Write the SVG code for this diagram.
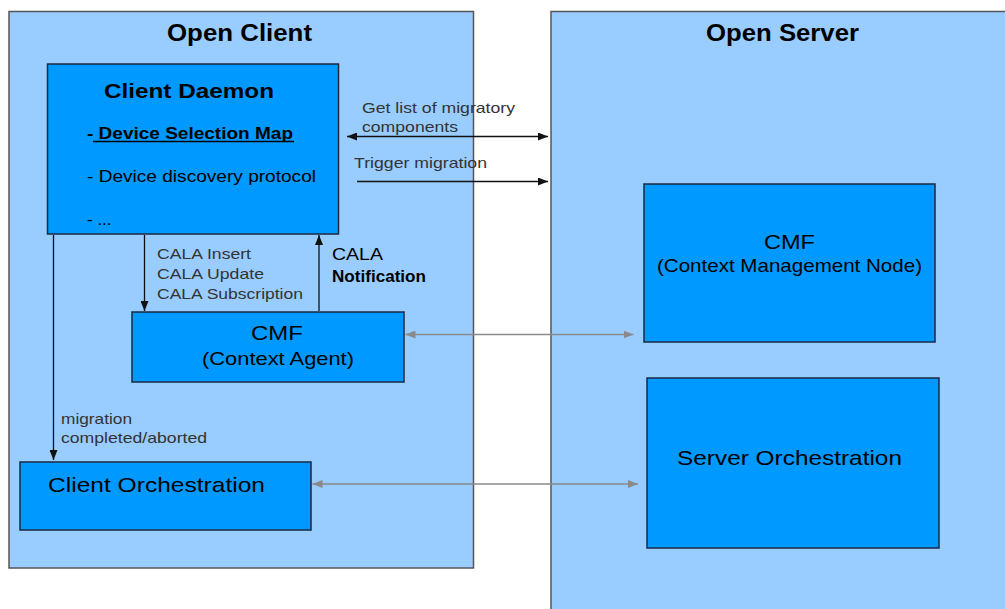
<svg xmlns="http://www.w3.org/2000/svg" width="1005" height="609" viewBox="0 0 1005 609">
  <defs>
    <marker id="arrowBlack" viewBox="0 0 10 8" refX="10" refY="4" markerWidth="10" markerHeight="8" markerUnits="userSpaceOnUse" orient="auto-start-reverse">
      <path d="M0,0 L10,4 L0,8 Z" fill="#111"/>
    </marker>
    <marker id="arrowGray" viewBox="0 0 10 8" refX="10" refY="4" markerWidth="10" markerHeight="8" markerUnits="userSpaceOnUse" orient="auto-start-reverse">
      <path d="M0,0 L10,4 L0,8 Z" fill="#8a8a8a"/>
    </marker>
  </defs>
  <style>
    .container { fill: #99ccff; stroke: #555; stroke-width: 1.5; }
    .box { fill: #0099ff; stroke: #1a2a40; stroke-width: 1.5; }
    text { font-family: "Liberation Sans", Arial, sans-serif; fill: #000; }
    .title { font-size: 24px; font-weight: bold; }
    .head { font-size: 21px; font-weight: bold; }
    .item { font-size: 17px; }
    .itemb { font-size: 17px; font-weight: bold; }
    .label { font-size: 15px; fill: #333; }
    .node { font-size: 21px; }
    .sub { font-size: 19px; }
    .black { stroke: #111; stroke-width: 1.3; fill: none; }
    .gray { stroke: #8a8a8a; stroke-width: 1.3; fill: none; }
  </style>

  <rect width="1005" height="609" fill="#fff"/>

  <!-- containers -->
  <g id="open-client">
    <rect class="container" x="9" y="11.5" width="464.5" height="556.5"/>
    <text class="title" x="167" y="40.5" textLength="145" lengthAdjust="spacingAndGlyphs">Open Client</text>
  </g>
  <g id="open-server">
    <rect class="container" x="551" y="11.5" width="470" height="620"/>
    <text class="title" x="706" y="40.5" textLength="153" lengthAdjust="spacingAndGlyphs">Open Server</text>
  </g>

  <!-- nodes -->
  <g id="client-daemon">
    <rect class="box" x="47.5" y="64" width="291" height="170"/>
    <text class="head" x="104" y="97.5" textLength="170" lengthAdjust="spacingAndGlyphs">Client Daemon</text>
    <text class="itemb" x="87" y="138.5" textLength="206" lengthAdjust="spacingAndGlyphs">- Device Selection Map</text>
    <line x1="93" y1="141.5" x2="294" y2="141.5" stroke="#000" stroke-width="1.4"/>
    <text class="item" x="87" y="182" textLength="229" lengthAdjust="spacingAndGlyphs">- Device discovery protocol</text>
    <text class="item" x="87" y="224.5">- ...</text>
  </g>

  <g id="cmf-agent">
    <rect class="box" x="132" y="312" width="272" height="70"/>
    <text class="node" x="251" y="340" textLength="52" lengthAdjust="spacingAndGlyphs">CMF</text>
    <text class="sub" x="202" y="365" textLength="152" lengthAdjust="spacingAndGlyphs">(Context Agent)</text>
  </g>

  <g id="client-orchestration">
    <rect class="box" x="20" y="462" width="291" height="68"/>
    <text class="node" x="48" y="492" textLength="217" lengthAdjust="spacingAndGlyphs">Client Orchestration</text>
  </g>

  <g id="cmf-node">
    <rect class="box" x="644" y="184" width="291" height="158"/>
    <text class="node" x="764" y="248.5" textLength="51" lengthAdjust="spacingAndGlyphs">CMF</text>
    <text class="sub" x="657" y="272" textLength="265" lengthAdjust="spacingAndGlyphs">(Context Management Node)</text>
  </g>

  <g id="server-orchestration">
    <rect class="box" x="647" y="378" width="292" height="170"/>
    <text class="node" x="677" y="464.5" textLength="225" lengthAdjust="spacingAndGlyphs">Server Orchestration</text>
  </g>

  <!-- connectors -->
  <g id="connectors">
    <line class="black" x1="347" y1="136.5" x2="548" y2="136.5" marker-start="url(#arrowBlack)" marker-end="url(#arrowBlack)"/>
    <text class="label" x="362" y="113" textLength="153" lengthAdjust="spacingAndGlyphs">Get list of migratory</text>
    <text class="label" x="362" y="132" textLength="96" lengthAdjust="spacingAndGlyphs">components</text>

    <line class="black" x1="357" y1="181.5" x2="548" y2="181.5" marker-end="url(#arrowBlack)"/>
    <text class="label" x="354" y="168" textLength="133" lengthAdjust="spacingAndGlyphs">Trigger migration</text>

    <line class="black" x1="144.5" y1="235" x2="144.5" y2="311" marker-end="url(#arrowBlack)"/>
    <text class="label" x="157" y="258.5" textLength="94" lengthAdjust="spacingAndGlyphs">CALA Insert</text>
    <text class="label" x="157" y="278.5" textLength="107" lengthAdjust="spacingAndGlyphs">CALA Update</text>
    <text class="label" x="157" y="298.5" textLength="146" lengthAdjust="spacingAndGlyphs">CALA Subscription</text>

    <line class="black" x1="319" y1="311" x2="319" y2="235" marker-end="url(#arrowBlack)"/>
    <text x="332" y="260" font-size="17" textLength="51" lengthAdjust="spacingAndGlyphs">CALA</text>
    <text x="332" y="281.5" font-size="17" font-weight="bold" textLength="94" lengthAdjust="spacingAndGlyphs">Notification</text>

    <line class="black" x1="53.5" y1="235" x2="53.5" y2="460" marker-end="url(#arrowBlack)"/>
    <text class="label" x="61" y="423.5" textLength="71" lengthAdjust="spacingAndGlyphs">migration</text>
    <text class="label" x="61" y="442.5" textLength="146" lengthAdjust="spacingAndGlyphs">completed/aborted</text>

    <line class="gray" x1="405.5" y1="334.5" x2="633.5" y2="334.5" marker-start="url(#arrowGray)" marker-end="url(#arrowGray)"/>
    <line class="gray" x1="312.5" y1="484" x2="638" y2="484" marker-start="url(#arrowGray)" marker-end="url(#arrowGray)"/>
  </g>
</svg>
